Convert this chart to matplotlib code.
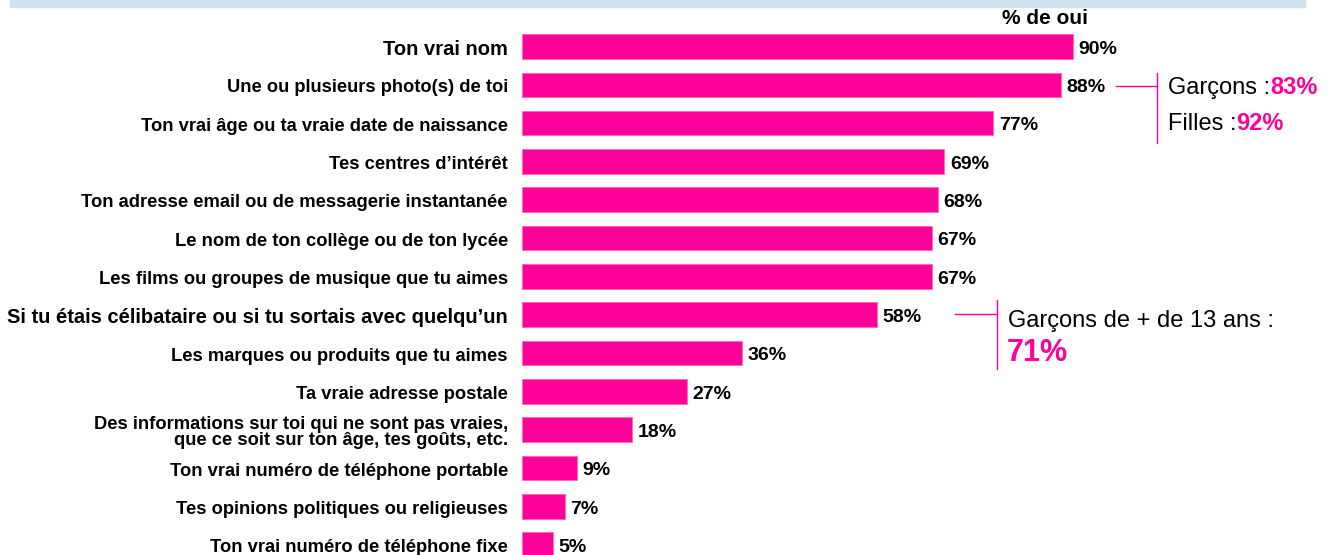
import matplotlib.pyplot as plt
from matplotlib.patches import Rectangle

plt.rcParams['font.family'] = ['Liberation Sans', 'DejaVu Sans']

items = [
    "Ton vrai nom",
    "Une ou plusieurs photo(s) de toi",
    "Ton vrai âge ou ta vraie date de naissance",
    "Tes centres d\u2019intérêt",
    "Ton adresse email ou de messagerie instantanée",
    "Le nom de ton collège ou de ton lycée",
    "Les films ou groupes de musique que tu aimes",
    "Si tu étais célibataire ou si tu sortais avec quelqu\u2019un",
    "Les marques ou produits que tu aimes",
    "Ta vraie adresse postale",
    "Des informations sur toi qui ne sont pas vraies,\nque ce soit sur ton âge, tes goûts, etc.",
    "Ton vrai numéro de téléphone portable",
    "Tes opinions politiques ou religieuses",
    "Ton vrai numéro de téléphone fixe",
]
values = [90, 88, 77, 69, 68, 67, 67, 58, 36, 27, 18, 9, 7, 5]

pink = '#ff0099'
W, H = 1336, 555
big = (0, 7)   # labels drawn a bit larger in the original

fig = plt.figure(figsize=(W / 100, H / 100), dpi=100)
# light blue banner at the top
fig.patches.append(Rectangle((10 / W, 1 - 7 / H), 1295 / W, 7 / H,
                             transform=fig.transFigure, color='#cde3f1', zorder=0))

ax = fig.add_axes([522 / W, 0, 612 / W, 527.7 / H])
ypos = list(range(len(values)))
ax.barh(ypos, values, height=0.64, color=pink, edgecolor='#ff66bb', linewidth=0.6)
ax.set_xlim(0, 100)
ax.set_ylim(13.27, -0.5)
ax.axis('off')

for y, v, lab in zip(ypos, values, items):
    ax.text(v + 0.9, y + 0.07, f"{v}%", va='center', ha='left',
            fontsize=14, fontweight='bold')
    fs = 14.5 if y in big else 13.2
    ax.text(-2.3, y + 0.08, lab, va='center', ha='right', fontsize=fs,
            fontweight='bold', linespacing=0.9)

fig.text(1045 / W, 1 - 18 / H, "% de oui", ha='center', va='center',
         fontsize=15, fontweight='bold')

# annotation 1: gender split for photos
fig.add_artist(plt.Line2D([1116 / W, 1157 / W], [1 - 86 / H, 1 - 86 / H],
                          color=pink, lw=1, transform=fig.transFigure))
fig.add_artist(plt.Line2D([1157 / W, 1157 / W], [1 - 73 / H, 1 - 143 / H],
                          color=pink, lw=1, transform=fig.transFigure))
t = fig.text(1168 / W, 1 - 88 / H, "Garçons :", ha='left', va='center', fontsize=17)
fig.canvas.draw()
bb = t.get_window_extent()
fig.text(bb.x1 / W, 1 - 88 / H, "83%", ha='left', va='center', fontsize=17,
         fontweight='bold', color=pink)
t = fig.text(1168 / W, 1 - 124 / H, "Filles :", ha='left', va='center', fontsize=17)
fig.canvas.draw()
bb = t.get_window_extent()
fig.text(bb.x1 / W, 1 - 124 / H, "92%", ha='left', va='center', fontsize=17,
         fontweight='bold', color=pink)

# annotation 2: boys over 13
fig.add_artist(plt.Line2D([955 / W, 997 / W], [1 - 314 / H, 1 - 314 / H],
                          color=pink, lw=1, transform=fig.transFigure))
fig.add_artist(plt.Line2D([997 / W, 997 / W], [1 - 300 / H, 1 - 369 / H],
                          color=pink, lw=1, transform=fig.transFigure))
fig.text(1008 / W, 1 - 321 / H, "Garçons de + de 13 ans :", ha='left', va='center',
         fontsize=17)
fig.text(1007 / W, 1 - 353 / H, "71%", ha='left', va='center', fontsize=22,
         fontweight='bold', color=pink)

fig.savefig('out.png', dpi=100)
